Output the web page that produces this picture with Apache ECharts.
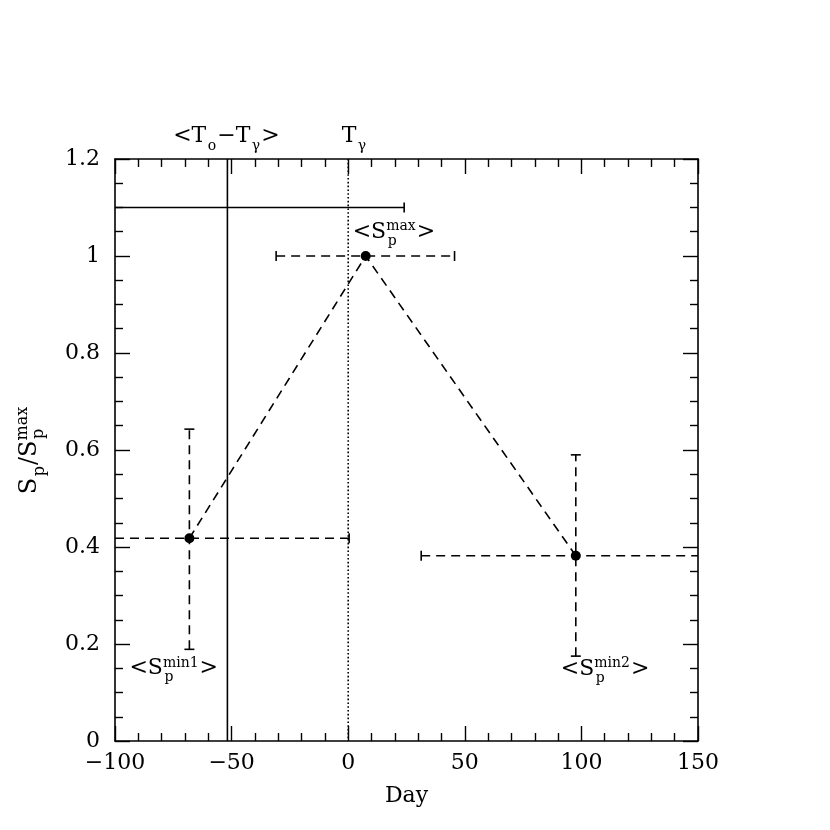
<!DOCTYPE html>
<html><head><meta charset="utf-8">
<script src="https://cdn.jsdelivr.net/npm/echarts@6/dist/echarts.min.js"></script>
<style>html,body{margin:0;padding:0;background:#fff}#c{width:830px;height:830px}</style>
</head><body><div id="c"></div>
<script>
// ---- data ----
const xTickValues = [-100, -50, 0, 50, 100, 150];
const xTickLabels = ['\u2212100', '\u221250', '0', '50', '100', '150'];
const yTickValues = [0, 0.2, 0.4, 0.6, 0.8, 1.0, 1.2];
const yTickLabels = ['0', '0.2', '0.4', '0.6', '0.8', '1', '1.2'];

const pointX = [-68.1, 7.5, 97.6];
const pointY = [0.418, 1.0, 0.382];
// null = bar runs on past the edge of the frame
const xErrLow  = [null, -30.9, 31.3];
const xErrHigh = [0.4, 45.6, null];
const yErrLow  = [0.189, null, 0.175];
const yErrHigh = [0.643, null, 0.590];

const rangeLineY = 1.1;
const rangeLineXLow = null;
const rangeLineXHigh = 24.0;
const onsetLineX = -51.8;   // <To - Tgamma>
const gammaLineX = 0;       // Tgamma

const annLabels = [
  { parts: [{t: '<T'}, {sub: 'o'}, {t: '\u2212T'}, {sub: '\u03b3'}, {t: '>'}], x: onsetLineX, y: 1.2 },
  { parts: [{t: 'T'}, {sub: '\u03b3'}], x: gammaLineX, y: 1.2 },
  { parts: [{t: '<S'}, {sub: 'p', sup: 'max'}, {t: '>'}], x: pointX[1], y: pointY[1] },
  { parts: [{t: '<S'}, {sub: 'p', sup: 'min1'}, {t: '>'}], x: pointX[0], y: yErrLow[0] },
  { parts: [{t: '<S'}, {sub: 'p', sup: 'min2'}, {t: '>'}], x: pointX[2], y: yErrLow[2] }
];
const yTitleParts = [{t: 'S'}, {sub: 'p'}, {t: '/S'}, {sub: 'p', sup: 'max'}];

// pixel placement of each annotation relative to its anchor
const annPlace = [
  { dx: -1, dy: -15, align: 'center' },
  { dx: -6.5, dy: -15, align: 'left' },
  { dx: -13, dy: -16, align: 'left' },
  { dx: -60, dy: 27, align: 'left' },
  { dx: -15, dy: 21, align: 'left' }
];

// ---- text helpers ----
const FONT = '"DejaVu Serif"';
const SUP = 8.5, SUB = 7, SUBST = 6, MID = 0.35;
const mctx = document.createElement('canvas').getContext('2d');
function tw(s, size) { mctx.font = size + 'px ' + FONT; return mctx.measureText(s).width; }
function buildText(parts, big, small) {
  let x = 0; const items = [];
  for (const p of parts) {
    if (p.t) { items.push({s: p.t, x: x, y: 0, size: big}); x += tw(p.t, big); }
    else {
      let w = 0;
      if (p.sup) { items.push({s: p.sup, x: x, y: -SUP * big / 22, size: small}); w = Math.max(w, tw(p.sup, small)); }
      if (p.sub) { items.push({s: p.sub, x: x + 1.5, y: (p.sup ? SUBST : SUB) * big / 22, size: small}); w = Math.max(w, tw(p.sub, small) + 1.5); }
      x += w + 1;
    }
  }
  return {items: items, width: x};
}
function textEl(it, ox, oy) {
  return { type: 'text', silent: true, x: ox + it.x, y: oy + it.y - MID * it.size,
    style: { text: it.s, font: it.size + 'px ' + FONT, fill: '#000', align: 'left', verticalAlign: 'middle' } };
}

function tickLabel(values, labels) {
  return function (v) {
    for (let i = 0; i < values.length; i++) if (Math.abs(values[i] - v) < 1e-9) return labels[i];
    return '';
  };
}

const LW = 1.6;
const axisCommon = {
  axisLine: { show: true, onZero: false, lineStyle: { color: '#000', width: 1.6 } },
  axisTick: { show: true, inside: true, length: 15, lineStyle: { color: '#000', width: 1.4 } },
  minorTick: { show: true, length: 8, lineStyle: { color: '#000', width: 1.4 } },
  splitLine: { show: false }, minorSplitLine: { show: false }
};

const chart = echarts.init(document.getElementById('c'), null, { renderer: 'canvas' });
const yTitle = buildText(yTitleParts, 24, 16);

const option = {
  animation: false,
  backgroundColor: '#fff',
  grid: { left: 115, right: 132, top: 159, bottom: 89 },
  xAxis: [
    Object.assign({}, axisCommon, {
      type: 'value', position: 'bottom', min: -100, max: 150, interval: 50,
      minorTick: Object.assign({}, axisCommon.minorTick, { splitNumber: 5 }),
      axisLabel: { show: true, margin: 11, color: '#000', fontFamily: 'DejaVu Serif', fontSize: 22,
        formatter: tickLabel(xTickValues, xTickLabels) },
      name: 'Day', nameLocation: 'middle', nameGap: 44,
      nameTextStyle: { color: '#000', fontFamily: 'DejaVu Serif', fontSize: 22 }
    }),
    Object.assign({}, axisCommon, {
      type: 'value', position: 'top', min: -100, max: 150, interval: 50,
      minorTick: Object.assign({}, axisCommon.minorTick, { splitNumber: 5 }),
      axisLabel: { show: false }
    })
  ],
  yAxis: [
    Object.assign({}, axisCommon, {
      type: 'value', position: 'left', min: 0, max: 1.2, interval: 0.2,
      minorTick: Object.assign({}, axisCommon.minorTick, { splitNumber: 4 }),
      axisLabel: { show: true, margin: 15, color: '#000', fontFamily: 'DejaVu Serif', fontSize: 22,
        formatter: tickLabel(yTickValues, yTickLabels) }
    }),
    Object.assign({}, axisCommon, {
      type: 'value', position: 'right', min: 0, max: 1.2, interval: 0.2,
      minorTick: Object.assign({}, axisCommon.minorTick, { splitNumber: 4 }),
      axisLabel: { show: false }
    })
  ],
  graphic: [{
    type: 'group', x: 38, y: 450, rotation: Math.PI / 2,
    children: yTitle.items.map(function (it) { return textEl(it, -yTitle.width / 2, 0); })
  }],
  series: [
    { // reference lines
      type: 'custom', xAxisIndex: 0, yAxisIndex: 0, silent: true, z: 2,
      data: [[onsetLineX, 0], [gammaLineX, 0], [rangeLineXHigh, rangeLineY]],
      renderItem: function (params, api) {
        const cs = params.coordSys;
        const i = params.dataIndex;
        if (i === 0 || i === 1) {
          const x = api.coord([api.value(0), 0])[0];
          return { type: 'line', shape: { x1: x, y1: cs.y, x2: x, y2: cs.y + cs.height },
            style: { stroke: '#000', lineWidth: i === 0 ? LW : 1.6, lineDash: i === 0 ? null : [1.6, 2.2] } };
        }
        const p = api.coord([api.value(0), api.value(1)]);
        const x0 = rangeLineXLow === null ? cs.x : api.coord([rangeLineXLow, rangeLineY])[0];
        return { type: 'group', children: [
          { type: 'line', shape: { x1: x0, y1: p[1], x2: p[0], y2: p[1] }, style: { stroke: '#000', lineWidth: LW } },
          { type: 'line', shape: { x1: p[0], y1: p[1] - 5, x2: p[0], y2: p[1] + 5 }, style: { stroke: '#000', lineWidth: LW } }
        ] };
      }
    },
    { // error bars
      type: 'custom', xAxisIndex: 0, yAxisIndex: 0, silent: true, z: 3,
      data: pointX.map(function (x, i) { return [x, pointY[i]]; }),
      renderItem: function (params, api) {
        const cs = params.coordSys;
        const i = params.dataIndex;
        const c = api.coord([api.value(0), api.value(1)]);
        const dash = { stroke: '#000', lineWidth: LW, lineDash: [9, 6] };
        const solid = { stroke: '#000', lineWidth: LW };
        const ch = [];
        const cap = 5;
        if (xErrLow[i] !== null || xErrHigh[i] !== null) {
          const x0 = xErrLow[i] === null ? cs.x : api.coord([xErrLow[i], pointY[i]])[0];
          const x1 = xErrHigh[i] === null ? cs.x + cs.width : api.coord([xErrHigh[i], pointY[i]])[0];
          ch.push({ type: 'line', shape: { x1: x0, y1: c[1], x2: x1, y2: c[1] }, style: dash });
          if (xErrLow[i] !== null) ch.push({ type: 'line', shape: { x1: x0, y1: c[1] - cap, x2: x0, y2: c[1] + cap }, style: solid });
          if (xErrHigh[i] !== null) ch.push({ type: 'line', shape: { x1: x1, y1: c[1] - cap, x2: x1, y2: c[1] + cap }, style: solid });
        }
        if (yErrLow[i] !== null || yErrHigh[i] !== null) {
          const y0 = api.coord([pointX[i], yErrLow[i]])[1];
          const y1 = api.coord([pointX[i], yErrHigh[i]])[1];
          ch.push({ type: 'line', shape: { x1: c[0], y1: y0, x2: c[0], y2: y1 }, style: dash });
          ch.push({ type: 'line', shape: { x1: c[0] - cap, y1: y0, x2: c[0] + cap, y2: y0 }, style: solid });
          ch.push({ type: 'line', shape: { x1: c[0] - cap, y1: y1, x2: c[0] + cap, y2: y1 }, style: solid });
        }
        return { type: 'group', children: ch };
      }
    },
    { // points joined by dashed line
      type: 'line', xAxisIndex: 0, yAxisIndex: 0, z: 4, silent: true,
      data: pointX.map(function (x, i) { return [x, pointY[i]]; }),
      symbol: 'circle', symbolSize: 10,
      itemStyle: { color: '#000', borderWidth: 0 },
      lineStyle: { color: '#000', width: LW, type: [9, 6] }
    },
    { // annotations
      type: 'custom', xAxisIndex: 0, yAxisIndex: 0, silent: true, z: 5, clip: false,
      data: annLabels.map(function (l) { return [l.x, l.y]; }),
      renderItem: function (params, api) {
        const i = params.dataIndex;
        const p = api.coord([api.value(0), api.value(1)]);
        const b = buildText(annLabels[i].parts, 22, 14);
        const pl = annPlace[i];
        const ox = p[0] + pl.dx - (pl.align === 'center' ? b.width / 2 : 0);
        const oy = p[1] + pl.dy;
        return { type: 'group', children: b.items.map(function (it) { return textEl(it, ox, oy); }) };
      }
    }
  ]
};
chart.setOption(option);
</script>
</body></html>
